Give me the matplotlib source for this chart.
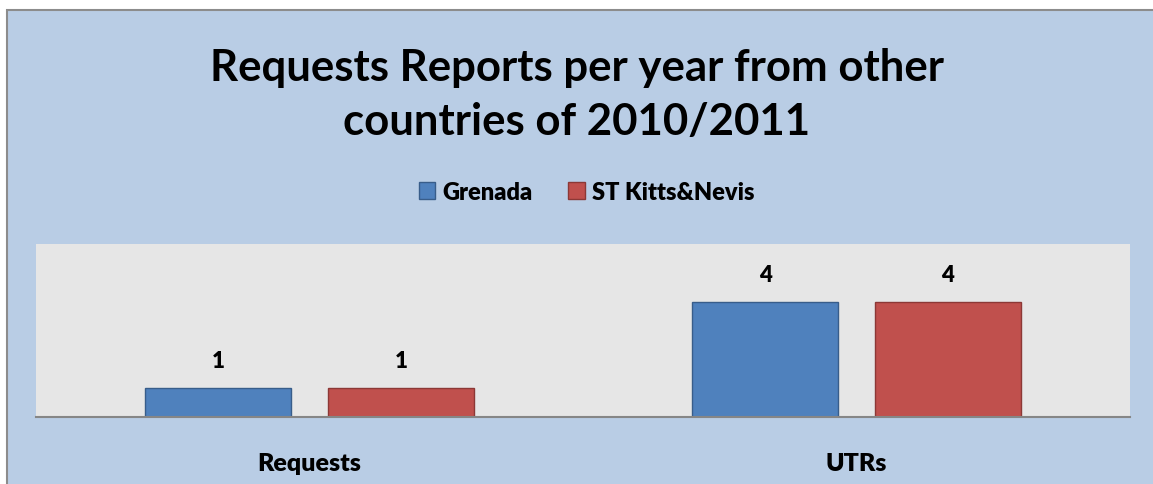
import matplotlib.pyplot as plt
from matplotlib.patches import Rectangle
import numpy as np

categories = ['Requests', 'UTRs']
grenada = [1, 4]
st_kitts = [1, 4]
series_names = ['Grenada', 'ST Kitts&Nevis']

W, H = 1153, 485
fig = plt.figure(figsize=(W / 100, H / 100), dpi=100)
fig.patch.set_facecolor('white')
plt.rcParams['font.family'] = ['Lato', 'DejaVu Sans']

# chart frame (light blue box with gray border)
fx0, fy1 = 7 / W, 1 - 11 / H
fig.patches.append(Rectangle((fx0, -0.05), 1.05 - fx0, fy1 + 0.05,
                             transform=fig.transFigure, facecolor='#B9CDE5',
                             edgecolor='#8C8C8C', linewidth=1.5, zorder=-10))

ax = fig.add_axes([36 / W, 1 - 418 / H, (1130 - 36) / W, (418 - 245) / H])
ax.set_zorder(1)
ax.set_facecolor('#E6E6E6')

x = np.arange(len(categories))
bw = 0.268
off = 0.167
b1 = ax.bar(x - off, grenada, bw, color='#4F81BD', edgecolor='#385D8A', linewidth=1, label=series_names[0])
b2 = ax.bar(x + off, st_kitts, bw, color='#C0504D', edgecolor='#8C3836', linewidth=1, label=series_names[1])

for bars in (b1, b2):
    for b in bars:
        ax.text(b.get_x() + b.get_width() / 2, b.get_height() + 0.95, f'{int(b.get_height())}',
                ha='center', va='center', fontsize=16, fontweight='heavy')

ax.set_xlim(-0.5, 1.5)
ax.set_ylim(0, 6)
ax.set_yticks([])
ax.set_xticks(x)
ax.set_xticklabels(categories, fontsize=18, fontweight='heavy')
ax.tick_params(axis='x', length=0, pad=25)
for s in ['top', 'right', 'left']:
    ax.spines[s].set_visible(False)
ax.spines['bottom'].set_color('#868686')
ax.spines['bottom'].set_linewidth(1.5)

fig.text(0.5, 1 - 95 / H, 'Requests Reports per year from other\ncountries of 2010/2011',
         ha='center', va='center', fontsize=31.5, fontweight='bold', linespacing=1.45)

fig.legend(handles=[b1, b2], labels=series_names, loc='center', bbox_to_anchor=(0.5 + 10 / W, 1 - 193 / H),
           ncol=2, frameon=False, prop={'weight': 'heavy', 'size': 17},
           handlelength=0.7, handleheight=0.7, handletextpad=0.3, columnspacing=1.5)

fig.savefig('out.png', dpi=100, facecolor=fig.get_facecolor())
